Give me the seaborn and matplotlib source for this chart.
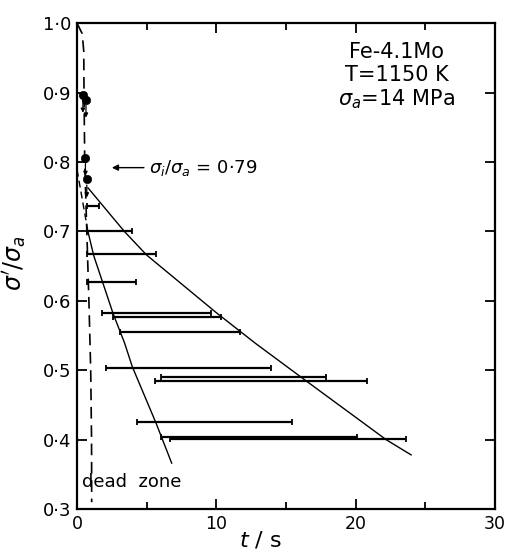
import numpy as np
import pandas as pd
import matplotlib
matplotlib.use("Agg")
import matplotlib.pyplot as plt
import seaborn as sns

# horizontal scatter bars: sigma'/sigma_a level and time range (s)
bar_y = [0.737, 0.701, 0.668, 0.627, 0.583, 0.577, 0.555, 0.504, 0.490, 0.484, 0.425, 0.404, 0.401]
bar_lo = [0.7, 0.7, 0.7, 0.7, 1.8, 2.55, 3.05, 2.05, 6.0, 5.6, 4.3, 6.0, 6.7]
bar_hi = [1.6, 3.95, 5.7, 4.2, 9.6, 10.35, 11.7, 13.9, 17.9, 20.85, 15.4, 20.1, 23.6]

# points with downward arrows
dot_t = [0.42, 0.64, 0.60, 0.70]
dot_y = [0.897, 0.890, 0.806, 0.775]

# upper (shallow) envelope curve
upper_t = [0.78, 3.4, 5.0, 10.0, 12.8, 16.5, 22.2, 24.0]
upper_y = [0.763, 0.700, 0.666, 0.583, 0.539, 0.484, 0.400, 0.378]

# lower (steep) envelope curve
lower_t = [0.78, 1.2, 1.85, 2.6, 3.4, 3.97, 5.67, 6.8]
lower_y = [0.700, 0.665, 0.626, 0.581, 0.540, 0.505, 0.424, 0.366]

# dashed extrapolation back to t = 0
extrap_t = [0.0, 0.78]
extrap_y = [0.789, 0.700]

# dashed dead-zone boundary
dead_t = [0.0, 0.37, 0.48, 0.50, 0.55, 0.70, 0.85, 0.98, 1.04, 1.05]
dead_y = [1.0, 0.985, 0.96, 0.90, 0.80, 0.70, 0.60, 0.50, 0.40, 0.31]

y_ticks = [0.3, 0.4, 0.5, 0.6, 0.7, 0.8, 0.9, 1.0]
x_ticks = [0, 10, 20, 30]
x_minor = [5, 15, 25]

sns.set_style("ticks")
plt.rcParams["font.family"] = ["DejaVu Sans"]
plt.rcParams["mathtext.fontset"] = "dejavusans"
plt.rcParams["text.color"] = "black"
plt.rcParams["axes.labelcolor"] = "black"
plt.rcParams["xtick.color"] = "black"
plt.rcParams["ytick.color"] = "black"

fig = plt.figure(figsize=(5.07, 5.54), dpi=100)
ax = fig.add_axes([0.152, 0.081, 0.824, 0.877])

bars = pd.DataFrame({"y": bar_y, "lo": bar_lo, "hi": bar_hi})
mid = (bars["lo"] + bars["hi"]) / 2
half = (bars["hi"] - bars["lo"]) / 2
ax.errorbar(mid, bars["y"], xerr=half, fmt="none", ecolor="black",
            elinewidth=1.6, capsize=2.5, capthick=1.3)

sns.lineplot(x=upper_t, y=upper_y, sort=False, color="black", lw=1.0, ax=ax)
sns.lineplot(x=lower_t, y=lower_y, sort=False, color="black", lw=1.0, ax=ax)
ax.plot(extrap_t, extrap_y, color="black", lw=1.0, ls=(0, (5, 3)))
ax.plot(dead_t, dead_y, color="black", lw=1.2, ls=(0, (7, 4)))

sns.scatterplot(x=dot_t, y=dot_y, color="black", s=36, edgecolor="black", zorder=5, ax=ax)
for t, y in zip(dot_t, dot_y):
    ax.annotate("", xy=(t, y - 0.026), xytext=(t, y - 0.008),
                arrowprops=dict(arrowstyle="-|>", color="black", lw=0.9,
                                mutation_scale=6, shrinkA=0, shrinkB=0))

ax.annotate("", xy=(2.5, 0.792), xytext=(4.8, 0.792),
            arrowprops=dict(arrowstyle="-|>", color="black", lw=1.0,
                            mutation_scale=9, shrinkA=0, shrinkB=0))
ax.text(5.2, 0.792, r"$\sigma_i/\sigma_a$ = 0·79", fontsize=13, va="center", ha="left")

ax.text(0.765, 0.940, "Fe-4.1Mo", transform=ax.transAxes, fontsize=15, ha="center", va="center")
ax.text(0.765, 0.893, "T=1150 K", transform=ax.transAxes, fontsize=15, ha="center", va="center")
ax.text(0.765, 0.844, r"$\sigma_a$=14 MPa", transform=ax.transAxes, fontsize=15, ha="center", va="center")

ax.text(0.35, 0.339, "dead  zone", fontsize=13, ha="left", va="center")

ax.set_xlim(0, 30)
ax.set_ylim(0.3, 1.0)
ax.set_xticks(x_ticks)
ax.set_xticks(x_minor, minor=True)
ax.set_xticklabels([str(v) for v in x_ticks], fontsize=12.5)
ax.set_yticks(y_ticks)
ax.set_yticklabels([f"{v:.1f}".replace(".", "·") for v in y_ticks], fontsize=13)
ax.tick_params(which="both", direction="in", top=True, right=True, width=1.3, color="black")
ax.tick_params(which="major", length=7)
ax.tick_params(which="minor", length=5)
ax.tick_params(axis="x", pad=4)
ax.tick_params(axis="y", pad=4)
for s in ax.spines.values():
    s.set_linewidth(1.6)
    s.set_color("black")

ax.set_xlabel(r"$t$ / s", fontsize=16)
ax.xaxis.set_label_coords(0.44, -0.042)
ax.set_ylabel(r"$\sigma'/\sigma_a$", fontsize=17)
ax.yaxis.set_label_coords(-0.118, 0.506)

fig.savefig("out.png", dpi=100)
